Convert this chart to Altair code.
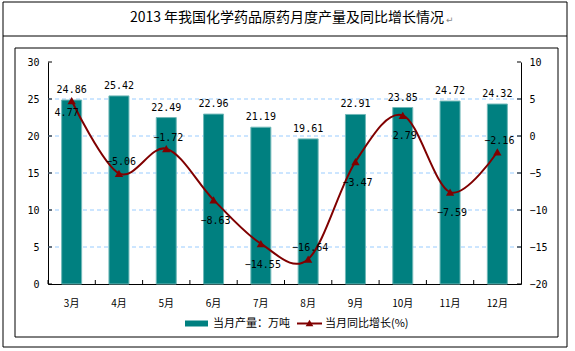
import altair as alt
import pandas as pd

months = ["3月", "4月", "5月", "6月", "7月", "8月", "9月", "10月", "11月", "12月"]
production = [24.86, 25.42, 22.49, 22.96, 21.19, 19.61, 22.91, 23.85, 24.72, 24.32]
growth = [4.77, -5.06, -1.72, -8.63, -14.55, -16.64, -3.47, 2.79, -7.59, -2.16]
growth_label_side = ["belowleft", "above", "above", "below", "below",
                     "above", "below", "below", "below", "above"]
left_ticks = [0, 5, 10, 15, 20, 25, 30]
right_ticks = [-20, -15, -10, -5, 0, 5, 10]
grid_values = [5, 10, 15, 20, 25]

title_text = "2013 年我国化学药品原药月度产量及同比增长情况"
legend_bar = "当月产量：万吨"
legend_line = "当月同比增长(%)"

TEAL = "#008080"
RED = "#800000"
MONO = "DejaVu Sans Mono"
CJK = "Noto Sans CJK SC"
W, H = 473, 222

df = pd.DataFrame({"month": months, "production": production,
                   "growth": growth, "side": growth_label_side})
lt = pd.DataFrame({"v": left_ticks})
rt = pd.DataFrame({"v": right_ticks})
gv = pd.DataFrame({"v": grid_values})

xscale = alt.Scale(paddingInner=0, paddingOuter=0)
yl_scale = alt.Scale(domain=[0, 30], nice=False, zero=False)
yr_scale = alt.Scale(domain=[-20, 10], nice=False, zero=False)

x_axis = alt.Axis(labelAngle=0, ticks=False, domainColor="black", title=None,
                  labelPadding=14, labelFont=CJK, labelFontSize=10, labelColor="black")
yl_axis = alt.Axis(orient="left", values=left_ticks, grid=False, ticks=False, title=None,
                   domainColor="black", labelPadding=9, labelFont=MONO,
                   labelFontSize=10, labelColor="black")
yr_axis = alt.Axis(orient="right", values=right_ticks, grid=False, ticks=False, title=None,
                   domainColor="black", labelPadding=8, labelFont=MONO,
                   labelFontSize=10, labelColor="black")


def X(**kw):
    return alt.X("month:N", sort=months, scale=xscale, axis=x_axis, title=None, **kw)


def YL(field):
    return alt.Y(field, scale=yl_scale, axis=yl_axis, title=None)


def YR(field):
    return alt.Y(field, scale=yr_scale, axis=yr_axis, title=None)


# --- bar layer (left scale)
grid = alt.Chart(gv).mark_rule(color="#99CCFF", strokeDash=[4, 3], strokeWidth=1).encode(
    y=YL("v:Q"))
bars = alt.Chart(df).mark_bar(size=20, color=TEAL, stroke="#70B8B8", strokeWidth=1).encode(
    x=X(), y=YL("production:Q"))
bar_labels = alt.Chart(df).mark_text(font=MONO, fontSize=10, color="black",
                                     baseline="middle", dy=-10).encode(
    x=X(), y=YL("production:Q"), text=alt.Text("production:Q", format=".2f"))
lticks = alt.Chart(lt).mark_rule(color="black").encode(
    y=YL("v:Q"), x=alt.value(0), x2=alt.value(4))
xticks = alt.Chart(df).mark_rule(color="black").encode(
    x=X(bandPosition=0), y=alt.value(H), y2=alt.value(H - 4))
bar_layer = alt.layer(grid, bars, bar_labels, lticks, xticks)

# --- line layer (right scale)
line = alt.Chart(df).mark_line(color=RED, strokeWidth=2, interpolate="cardinal").encode(
    x=X(), y=YR("growth:Q"))
pts = alt.Chart(df).mark_point(shape="triangle-up", filled=True, size=70, color=RED,
                               opacity=1).encode(x=X(), y=YR("growth:Q"))


def glabel(side, dx, dy):
    return alt.Chart(df).transform_filter(alt.datum.side == side).mark_text(
        font=MONO, fontSize=10, color="black", baseline="middle", dx=dx, dy=dy).encode(
        x=X(), y=YR("growth:Q"), text=alt.Text("growth:Q", format=".2f"))


rticks = alt.Chart(rt).mark_rule(color="black").encode(
    y=YR("v:Q"), x=alt.value(W - 4), x2=alt.value(W))
line_layer = alt.layer(line, pts, glabel("above", 2, -11), glabel("below", 2, 21),
                       glabel("belowleft", -5, 12), rticks)

# --- decorations: frames, title, legend
one = alt.Data(values=[{}])
outer = alt.Chart(one).mark_rect(fillOpacity=0, stroke="black", strokeWidth=1).encode(
    x=alt.value(-45), x2=alt.value(519), y=alt.value(-60), y2=alt.value(285))
inner = alt.Chart(one).mark_rect(fillOpacity=0, stroke="black", strokeWidth=1).encode(
    x=alt.value(-33), x2=alt.value(510), y=alt.value(-14), y2=alt.value(275))
divider = alt.Chart(one).mark_rule(color="black").encode(
    x=alt.value(-45), x2=alt.value(519), y=alt.value(-26))
title = alt.Chart(one).mark_text(text=title_text, font=CJK, fontSize=14, color="black",
                                 align="center", baseline="middle").encode(
    x=alt.value(239), y=alt.value(-44))
ret = alt.Chart(one).mark_text(text="↵", font="DejaVu Sans", fontSize=9, color="#888888",
                               align="left", baseline="middle").encode(
    x=alt.value(398), y=alt.value(-42))
leg_rect = alt.Chart(one).mark_rect(color=TEAL).encode(
    x=alt.value(137), x2=alt.value(160), y=alt.value(258.5), y2=alt.value(264.5))
leg_t1 = alt.Chart(one).mark_text(text=legend_bar, font=CJK, fontSize=11, color="black",
                                  align="left", baseline="middle").encode(
    x=alt.value(165), y=alt.value(261.5))
leg_line = alt.Chart(one).mark_rule(color=RED, strokeWidth=2).encode(
    x=alt.value(249), x2=alt.value(274), y=alt.value(261.5))
leg_pt = alt.Chart(one).mark_point(shape="triangle-up", filled=True, size=60, color=RED,
                                   opacity=1).encode(x=alt.value(261.5), y=alt.value(261))
leg_t2 = alt.Chart(one).mark_text(text=legend_line, font=CJK, fontSize=11, color="black",
                                  align="left", baseline="middle").encode(
    x=alt.value(277), y=alt.value(261.5))

chart = alt.layer(
    bar_layer, line_layer, outer, inner, divider, title, ret,
    leg_rect, leg_t1, leg_line, leg_pt, leg_t2
).resolve_scale(y="independent").properties(
    width=W, height=H,
    padding={"left": 48, "top": 62, "right": 54, "bottom": 67},
    autosize=alt.AutoSizeParams(type="none"),
    background="white",
).configure_view(stroke=None)

chart.save("out.html", embed_options={"renderer": "svg", "actions": False})
